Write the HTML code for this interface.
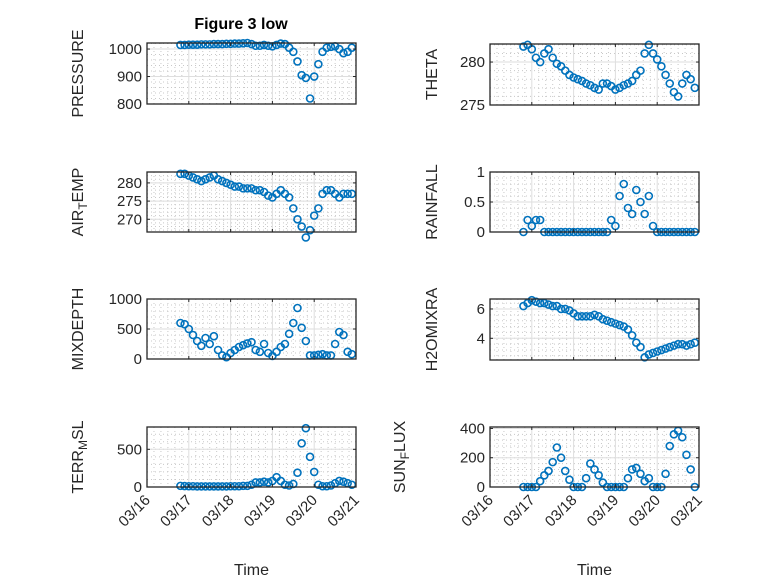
<!DOCTYPE html>
<html><head><meta charset="utf-8"><style>
html,body{margin:0;padding:0;background:#fff;}
svg{display:block;font-family:"Liberation Sans","DejaVu Sans",sans-serif;}
</style></head><body>
<svg id="fig" width="778" height="583" viewBox="0 0 778 583">
<rect x="0" y="0" width="778" height="583" fill="#fff"/>
<text x="241" y="29" text-anchor="middle" font-size="16" font-weight="bold" fill="#000">Figure 3 low</text>
</svg>
<script>
// shared time axis (days since 03/16)
const times = [0.8,0.9,1.0,1.1,1.2,1.3,1.4,1.5,1.6,1.7,1.8,1.9,2.0,2.1,2.2,2.3,2.4,2.5,2.6,2.7,2.8,2.9,3.0,3.1,3.2,3.3,3.4,3.5,3.6,3.7,3.8,3.9,4.0,4.1,4.2,4.3,4.4,4.5,4.6,4.7,4.8,4.9];
const xTickLabels = ["03/16","03/17","03/18","03/19","03/20","03/21"];
const pressure = [1015,1015,1016,1016,1016,1017,1017,1017,1018,1018,1018,1019,1019,1020,1020,1021,1022,1018,1012,1012,1015,1012,1010,1015,1020,1018,1005,990,955,905,895,820,900,945,990,1005,1008,1010,1000,985,990,1005];
const theta = [281.8,282,281.5,280.5,280,281,281.5,280.5,279.8,279.5,279,278.5,278.2,278,277.8,277.5,277.3,277,276.8,277.5,277.5,277.2,276.8,277,277.3,277.5,277.8,278.5,279,281,282,281,280.3,279.5,278.5,277.5,276.5,276,277.5,278.5,278,277];
const airTemp = [282.5,282.5,282,281.5,281,280.5,281,281.5,282,281,280.5,280,279.5,279,279,278.5,278.5,278.5,278,278,277.5,276.5,276,277,278,277,276,273,270,268,265,267,271,273,277,278,278,277,276,277,277,277];
const rainfall = [0,0.2,0.1,0.2,0.2,0,0,0,0,0,0,0,0,0,0,0,0,0,0,0,0,0.2,0.1,0.6,0.8,0.4,0.3,0.7,0.5,0.3,0.6,0.1,0,0,0,0,0,0,0,0,0,0];
const mixDepth = [600,580,500,400,300,220,350,250,380,150,60,30,100,150,200,230,260,280,150,120,250,100,50,120,200,250,420,600,850,520,300,60,60,70,80,60,60,250,450,400,120,80];
const h2oMix = [6.2,6.4,6.6,6.5,6.4,6.4,6.3,6.2,6.2,6.0,6.0,5.9,5.7,5.5,5.5,5.5,5.5,5.6,5.5,5.3,5.2,5.1,5.0,4.9,4.8,4.6,4.2,3.7,3.4,2.7,2.9,3.0,3.1,3.2,3.3,3.4,3.5,3.6,3.6,3.5,3.6,3.7];
const terrMsl = [15,12,10,10,8,8,8,8,8,8,8,8,10,10,10,15,15,30,60,60,70,60,80,130,80,30,20,40,190,580,780,400,200,30,10,10,20,50,80,70,50,30];
const sunFlux = [0,0,0,0,40,80,110,170,270,200,110,50,0,0,0,60,160,120,80,30,0,0,0,0,0,60,120,130,90,40,60,0,0,0,90,280,360,385,340,220,120,0];

const pressureTicks = [800,900,1000];
const thetaTicks = [275,280];
const airTicks = [270,275,280];
const rainTicks = [0,0.5,1];
const mixTicks = [0,500,1000];
const h2oTicks = [4,6];
const terrTicks = [0,500];
const sunTicks = [0,200,400];

const NS = "http://www.w3.org/2000/svg";
const svg = document.getElementById('fig');
function mk(tag, attrs, parent){ const e=document.createElementNS(NS,tag); for(const k in attrs) e.setAttribute(k,attrs[k]); (parent||svg).appendChild(e); return e; }

function drawAxes(cfg){
  const g = mk('g',{});
  
  
  const L=cfg.x0, R=cfg.x1, T=cfg.y0, B=cfg.y1;
  const xs = v => L + (v-0)/5*(R-L);
  const ys = v => B - (v-cfg.ymin)/(cfg.ymax-cfg.ymin)*(B-T);
  mk('rect',{x:L,y:T,width:R-L,height:B-T,fill:'#fff'},g);
  for(let d=0; d<5; d++) for(let m=1;m<6;m++){ const x=xs(d+m/6);
    mk('line',{x1:x,x2:x,y1:T,y2:B,stroke:'#c8c8c8','stroke-width':1,'stroke-dasharray':'1,3'},g); }
  const step = cfg.yticks.length>1 ? cfg.yticks[1]-cfg.yticks[0] : 1;
  for(let v=cfg.yticks[0]-step; v<=cfg.ymax+1e-9; v+=step/5){
    if(v<cfg.ymin-1e-9) continue; const y=ys(v);
    mk('line',{x1:L,x2:R,y1:y,y2:y,stroke:'#c8c8c8','stroke-width':1,'stroke-dasharray':'1,3'},g);
  }
  for(let i=0;i<xTickLabels.length;i++){ const x=xs(i);
    mk('line',{x1:x,x2:x,y1:T,y2:B,stroke:'#dedede','stroke-width':1},g); }
  cfg.yticks.forEach(v=>{ const y=ys(v); mk('line',{x1:L,x2:R,y1:y,y2:y,stroke:'#dedede','stroke-width':1},g); });
  const dg = mk('g',{},g);
  
  
  for(let i=0;i<times.length;i++){
    const c = mk('circle',{cx:xs(times[i]),cy:ys(cfg.data[i]),r:3.5,fill:'none',stroke:'#0072BD','stroke-width':1.6},dg);
    
    
  }
  mk('rect',{x:L,y:T,width:R-L,height:B-T,fill:'none',stroke:'#262626','stroke-width':1.3},g);
  for(let i=0;i<xTickLabels.length;i++){ const x=xs(i);
    mk('line',{x1:x,x2:x,y1:B,y2:B-3,stroke:'#262626','stroke-width':1},g);
    mk('line',{x1:x,x2:x,y1:T,y2:T+3,stroke:'#262626','stroke-width':1},g);
    if(cfg.showX){
      const t = mk('text',{x:x+4,y:B+14,'text-anchor':'end','font-size':15,fill:'#262626',transform:`rotate(-45 ${x+4} ${B+14})`},g);
      t.textContent = xTickLabels[i];
      
      
    }
  }
  cfg.yticks.forEach(v=>{ const y=ys(v);
    mk('line',{x1:L,x2:L+3,y1:y,y2:y,stroke:'#262626','stroke-width':1},g);
    mk('line',{x1:R,x2:R-3,y1:y,y2:y,stroke:'#262626','stroke-width':1},g);
    const t = mk('text',{x:L-5,y:y+5,'text-anchor':'end','font-size':15,fill:'#262626'},g);
    t.textContent = String(v);
    
    
  });
  const lx = cfg.labelX, ly=(T+B)/2;
  const yl = mk('text',{x:lx,y:ly,'text-anchor':'middle','font-size':16,fill:'#262626',transform:`rotate(-90 ${lx} ${ly})`},g);
  
  
  if(cfg.sub){
    const a=mk('tspan',{},yl); a.textContent=cfg.label[0];
    const b=mk('tspan',{'font-size':12,dy:4},yl); b.textContent=cfg.label[1];
    const c=mk('tspan',{dy:-4},yl); c.textContent=cfg.label[2];
  } else yl.textContent = cfg.label;
  if(cfg.showX){
    const xt = mk('text',{x:(L+R)/2,y:575,'text-anchor':'middle','font-size':16,fill:'#262626'},g);
    xt.textContent='Time';
    
    
  }
}
const LX0=147, LX1=356, RX0=490, RX1=699;
drawAxes({name:'pressure',x0:LX0,x1:LX1,y0:43,y1:104,ymin:800,ymax:1022,yticks:pressureTicks,data:pressure,label:'PRESSURE',labelX:83});
drawAxes({name:'theta',x0:RX0,x1:RX1,y0:44,y1:105,ymin:275,ymax:282.1,yticks:thetaTicks,data:theta,label:'THETA',labelX:437});
drawAxes({name:'air-temp',x0:LX0,x1:LX1,y0:172,y1:232,ymin:266.5,ymax:283,yticks:airTicks,data:airTemp,label:['AIR','T','EMP'],sub:true,labelX:83});
drawAxes({name:'rainfall',x0:RX0,x1:RX1,y0:172,y1:232,ymin:0,ymax:1,yticks:rainTicks,data:rainfall,label:'RAINFALL',labelX:437});
drawAxes({name:'mixdepth',x0:LX0,x1:LX1,y0:299,y1:359,ymin:0,ymax:1000,yticks:mixTicks,data:mixDepth,label:'MIXDEPTH',labelX:83});
drawAxes({name:'h2omixra',x0:RX0,x1:RX1,y0:299,y1:360,ymin:2.52,ymax:6.68,yticks:h2oTicks,data:h2oMix,label:'H2OMIXRA',labelX:437});
drawAxes({name:'terr-msl',x0:LX0,x1:LX1,y0:427,y1:487,ymin:0,ymax:796,yticks:terrTicks,data:terrMsl,label:['TERR','M','SL'],sub:true,labelX:83,showX:true});
drawAxes({name:'sun-flux',x0:RX0,x1:RX1,y0:427,y1:487,ymin:0,ymax:410,yticks:sunTicks,data:sunFlux,label:['SUN','F','LUX'],sub:true,labelX:405,showX:true});
</script>
</body></html>
